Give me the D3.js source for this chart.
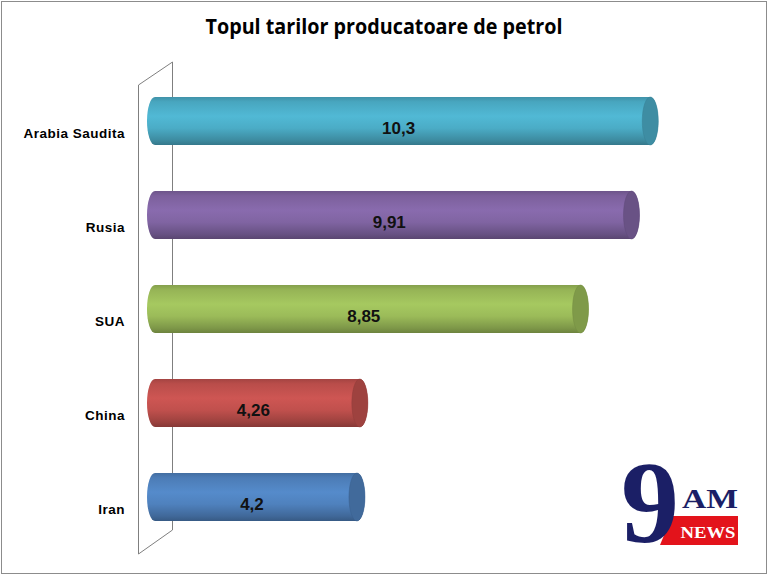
<!DOCTYPE html>
<html><head><meta charset="utf-8">
<script src="https://cdn.jsdelivr.net/npm/d3@7"></script>
<style>body{margin:0;background:#fff}svg{display:block}</style>
</head><body>
<svg id="c" width="768" height="575"></svg>
<script>
const categories = ["Arabia Saudita", "Rusia", "SUA", "China", "Iran"];
const values = [10.3, 9.91, 8.85, 4.26, 4.2];
const valueLabels = ["10,3", "9,91", "8,85", "4,26", "4,2"];
const colors = ["#4bacc6", "#8064a2", "#9bbb59", "#c0504d", "#4f81bd"];
const title = "Topul tarilor producatoare de petrol";

const svg = d3.select("#c");
svg.append("rect").attr("x", 1.5).attr("y", 1.5).attr("width", 765).attr("height", 572)
  .attr("fill", "#fff").attr("stroke", "#8c8c8c").attr("stroke-width", 1);

svg.append("text").attr("x", 384).attr("y", 34).attr("text-anchor", "middle")
  .attr("font-family", "'Liberation Sans Narrow', 'Open Sans', sans-serif").attr("font-weight", "bold")
  .attr("font-size", 21).attr("fill", "#000")
  .attr("textLength", 357).attr("lengthAdjust", "spacingAndGlyphs").text(title);

// wall
const wall = svg.append("g").attr("fill", "none").attr("stroke", "#7f7f7f").attr("stroke-width", 1);
wall.append("path").attr("d", "M138.5,85 L172.5,62 L172.5,530 L138.5,554 Z").attr("fill", "#fff");

const x = d3.scaleLinear().domain([0, 12]).range([155, 732]);
const y = d3.scaleBand().domain(categories).range([74, 544]).paddingInner(0.49).paddingOuter(0.245);

const defs = svg.append("defs");
colors.forEach((c, i) => {
  const g = defs.append("linearGradient").attr("id", "g" + i).attr("x1", 0).attr("y1", 0).attr("x2", 0).attr("y2", 1);
  const col = d3.color(c);
  g.append("stop").attr("offset", "0%").attr("stop-color", col.darker(0.45));
  g.append("stop").attr("offset", "10%").attr("stop-color", col.darker(0.1));
  g.append("stop").attr("offset", "40%").attr("stop-color", col.brighter(0.2));
  g.append("stop").attr("offset", "65%").attr("stop-color", col);
  g.append("stop").attr("offset", "90%").attr("stop-color", col.darker(0.6));
  g.append("stop").attr("offset", "100%").attr("stop-color", col.darker(1.0));
});

const rx = 8;
const bars = svg.append("g");
categories.forEach((cat, i) => {
  const x0 = x(0), x1 = x(values[i]);
  const y0 = y(cat), h = y.bandwidth(), y1 = y0 + h, ry = h / 2;
  bars.append("path")
    .attr("d", `M${x0},${y0} L${x1},${y0} A${rx},${ry} 0 0 1 ${x1},${y1} L${x0},${y1} A${rx},${ry} 0 0 1 ${x0},${y0} Z`)
    .attr("fill", `url(#g${i})`);
  bars.append("ellipse").attr("cx", x1).attr("cy", y0 + ry).attr("rx", rx).attr("ry", ry)
    .attr("fill", d3.color(colors[i]).darker(0.55)).attr("stroke", d3.color(colors[i]).darker(0.8)).attr("stroke-width", 0.5);
  bars.append("text").attr("x", (x0 - rx + x1) / 2).attr("y", y0 + ry + 13)
    .attr("text-anchor", "middle").attr("font-family", "'Liberation Sans', Arial, sans-serif")
    .attr("font-weight", "bold").attr("font-size", 17).attr("fill", "#111").text(valueLabels[i]);
  svg.append("text").attr("x", 125).attr("y", y0 + ry + 17)
    .attr("text-anchor", "end").attr("font-family", "'Liberation Sans', Arial, sans-serif")
    .attr("font-weight", "bold").attr("font-size", 13.5).attr("letter-spacing", 0.5).attr("fill", "#000").text(cat);
});

// logo
const logo = svg.append("g");
logo.append("path").attr("d", "M672,516 L738,516 L738,545 L660,545 Z").attr("fill", "#e3131b");
logo.append("text").attr("x", 708).attr("y", 538).attr("text-anchor", "middle")
  .attr("font-family", "'Liberation Serif', serif").attr("font-weight", "bold").attr("font-size", 16)
  .attr("fill", "#fff").attr("textLength", 55).attr("lengthAdjust", "spacingAndGlyphs").text("NEWS");
logo.append("text").attr("x", 650).attr("y", 542).attr("text-anchor", "middle")
  .attr("font-family", "'Liberation Serif', serif").attr("font-weight", "bold").attr("font-size", 116)
  .attr("fill", "#1b1f66").text("9");
logo.append("text").attr("x", 710).attr("y", 508).attr("text-anchor", "middle")
  .attr("font-family", "'Liberation Serif', serif").attr("font-weight", "bold").attr("font-size", 28)
  .attr("fill", "#1b1f66").attr("textLength", 56).attr("lengthAdjust", "spacingAndGlyphs").text("AM");
</script>
</body></html>
